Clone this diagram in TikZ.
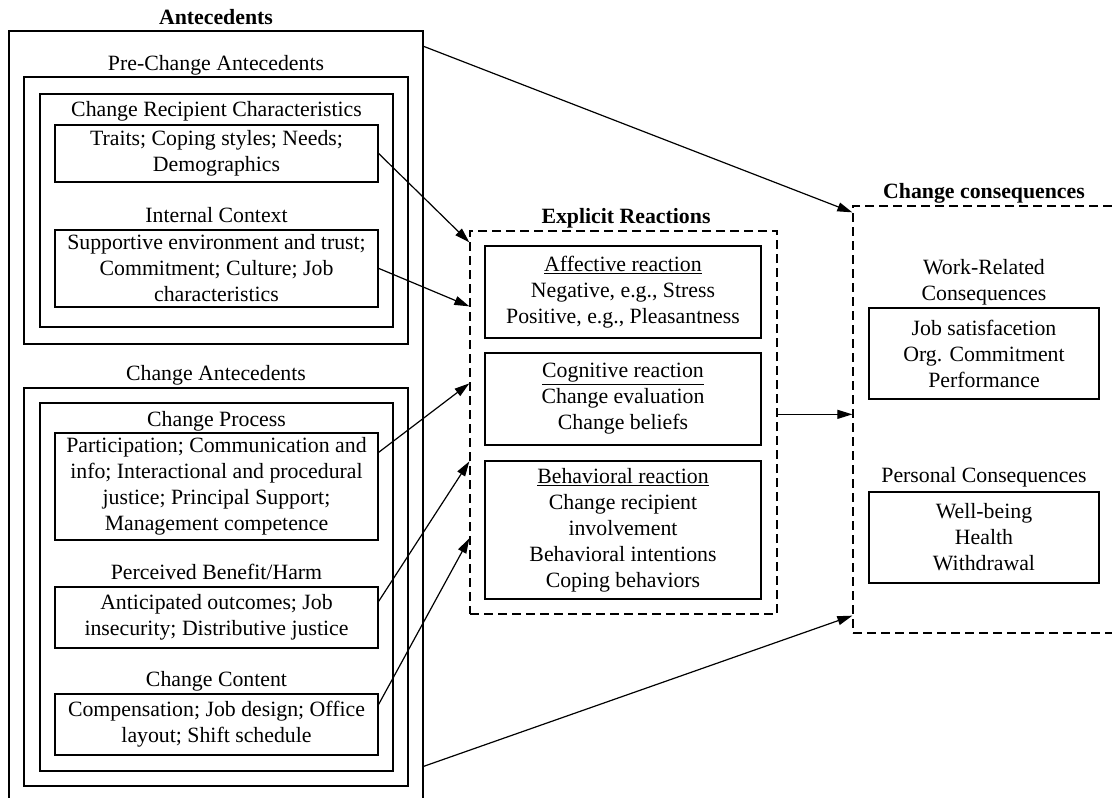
\documentclass[tikz,border=0pt]{standalone}
\usepackage{fontspec}
\setmainfont{Liberation Serif}
\usetikzlibrary{arrows.meta,calc}
\newcommand\diagfont{\fontsize{21.8}{26}\selectfont}
\begin{document}
\begin{tikzpicture}[x=1pt,y=-1pt,
  box/.style={draw,line width=1.3pt,inner sep=0pt,align=center,font=\diagfont},
  dbox/.style={draw,line width=1.3pt,dash pattern=on 9pt off 5pt,inner sep=0pt},
  lbl/.style={inner sep=0pt,anchor=base,font=\diagfont},
  title/.style={inner sep=0pt,anchor=base,font=\diagfont\bfseries},
  arr/.style={line width=1.2pt,-{Triangle[length=15pt,width=9pt]}}]
\useasboundingbox (0,0) rectangle (1112,798);
\clip (0,0) rectangle (1112,798);

% Antecedents column
\node[box,minimum width=414pt,minimum height=799pt] (ante) at (216,430.5) {};
\node[title] (tAnte) at (216,24) {Antecedents};

\node[box,minimum width=384pt,minimum height=267pt] (pre) at (216,210.5) {};
\node[lbl] (tPre) at (216,70.5) {Pre-Change Antecedents};
\node[box,minimum width=353pt,minimum height=233pt] (crc) at (216.5,210.5) {};
\node[lbl] (tCrc) at (216.5,116.5) {Change Recipient Characteristics};
\node[box,minimum width=323pt,minimum height=57pt] (traits) at (216.5,153.5)
  {Traits; Coping styles; Needs;\\Demographics};
\node[lbl] (tInt) at (216.5,222.5) {Internal Context};
\node[box,minimum width=323pt,minimum height=77pt] (internal) at (216.5,268.5)
  {Supportive environment and trust;\\Commitment; Culture; Job\\characteristics};

\node[box,minimum width=384pt,minimum height=398pt] (chant) at (216,587) {};
\node[lbl] (tChant) at (216,380.5) {Change Antecedents};
\node[box,minimum width=353pt,minimum height=368pt] (chin) at (216.5,587) {};
\node[lbl] (tProc) at (216.5,426.5) {Change Process};
\node[box,minimum width=323pt,minimum height=107pt] (process) at (216.5,486.5)
  {Participation; Communication and\\info; Interactional and procedural\\justice; Principal Support;\\Management competence};
\node[lbl] (tBen) at (216.5,579.5) {Perceived Benefit/Harm};
\node[box,minimum width=323pt,minimum height=61pt] (benefit) at (216.5,617.5)
  {Anticipated outcomes; Job\\insecurity; Distributive justice};
\node[lbl] (tCont) at (216.5,686.5) {Change Content};
\node[box,minimum width=323pt,minimum height=61pt] (content) at (216.5,724.5)
  {Compensation; Job design; Office\\layout; Shift schedule};

% Explicit reactions
\node[dbox,minimum width=307pt,minimum height=383pt] (expl) at (623.5,422.5) {};
\node[title] (tExpl) at (626,223) {Explicit Reactions};
\node[box,minimum width=276pt,minimum height=92pt] (affect) at (623,292)
  {\underline{Affective reaction}\\Negative, e.g., Stress\\Positive, e.g., Pleasantness};
\node[box,minimum width=276pt,minimum height=92pt] (cogn) at (623,399)
  {\underline{Cognitive reaction}\\Change evaluation\\Change beliefs};
\node[box,minimum width=276pt,minimum height=138pt] (behav) at (623,530)
  {\underline{Behavioral reaction}\\Change recipient\\involvement\\Behavioral intentions\\Coping behaviors};

% Change consequences
\node[dbox,minimum width=287pt,minimum height=427pt] (cons) at (996.5,419.5) {};
\node[title] (tCons) at (984,198) {Change consequences};
\node[inner sep=0pt,align=center,font=\diagfont] (tWork) at (984,282.5) {Work-Related\\Consequences};
\node[box,minimum width=230pt,minimum height=91pt] (work) at (984,353.5)
  {Job satisfacetion\\Org. Commitment\\Performance};
\node[lbl] (tPers) at (984,482.5) {Personal Consequences};
\node[box,minimum width=230pt,minimum height=91pt] (pers) at (984,537.5)
  {Well-being\\Health\\Withdrawal};

% Connectors
\draw[arr] ([yshift=-16pt]ante.north east) -- ([yshift=-7pt]cons.north west);
\draw[arr] (traits.east) -- ([yshift=-12pt]expl.north west);
\draw[arr] ([yshift=-39pt]internal.north east) -- ([yshift=-76pt]expl.north west);
\draw[arr] ([yshift=-20pt]process.north east) -- ([yshift=-153pt]expl.north west);
\draw[arr] ([yshift=-15pt]benefit.north east) -- ([yshift=-231pt]expl.north west);
\draw[arr] ([yshift=-11pt]content.north east) -- ([yshift=-308pt]expl.north west);
\coordinate (mid) at ([yshift=-184pt]expl.north east);
\draw[arr] (mid) -- (mid -| cons.west);
\draw[arr] ([yshift=-736pt]ante.north east) -- ([yshift=18pt]cons.south west);
\end{tikzpicture}
\end{document}
